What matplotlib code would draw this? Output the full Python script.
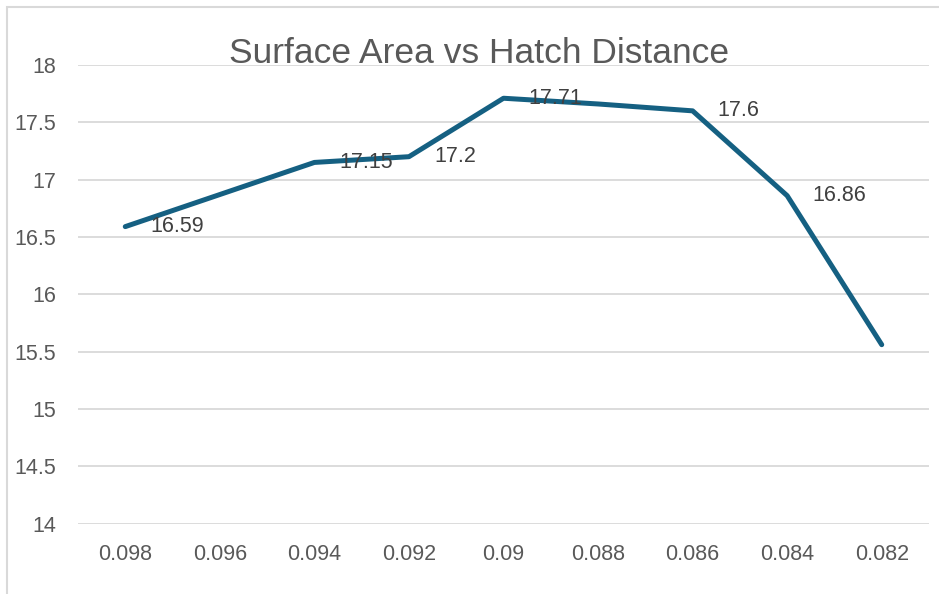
import matplotlib.pyplot as plt
from matplotlib.patches import Rectangle

# hatch distance categories and measured surface area
hatch = ["0.098", "0.096", "0.094", "0.092", "0.09", "0.088", "0.086", "0.084", "0.082"]
area = [16.59, 16.87, 17.15, 17.2, 17.71, 17.66, 17.6, 16.86, 15.56]
# only some points carry a data label
labelled = [True, False, True, True, True, False, True, True, False]

plt.rcParams['font.family'] = ['Liberation Sans', 'DejaVu Sans']

W, H = 939, 594
fig = plt.figure(figsize=(W / 100, H / 100), dpi=100)
ax = fig.add_axes([78 / W, 1 - 523.5 / H, (929 - 78) / W, (523.5 - 65) / H])

x = list(range(len(hatch)))
ax.plot(x, area, color='#156082', lw=3.6, solid_capstyle='round', solid_joinstyle='round', zorder=3)

for i, (v, show) in enumerate(zip(area, labelled)):
    if show:
        ax.annotate(f"{v:g}", (i, v), xytext=(18, 0), textcoords='offset points',
                    ha='left', va='center', fontsize=15.5, color='#404040', zorder=4)

ax.set_xlim(-0.5, len(hatch) - 0.5)
ax.set_ylim(14, 18)
ax.set_yticks([14, 14.5, 15, 15.5, 16, 16.5, 17, 17.5, 18])
ax.set_yticklabels(["14", "14.5", "15", "15.5", "16", "16.5", "17", "17.5", "18"])
ax.set_xticks(x)
ax.set_xticklabels(hatch)
ax.tick_params(axis='both', length=0, labelsize=15.5, labelcolor='#595959')
ax.tick_params(axis='y', pad=16)
ax.tick_params(axis='x', pad=15)
ax.grid(axis='y', color='#D9D9D9', lw=1.3)
ax.set_axisbelow(True)
for s in ax.spines.values():
    s.set_visible(False)

fig.text(479 / W, 1 - 63 / H, "Surface Area vs Hatch Distance", ha='center', va='baseline',
         fontsize=25.5, color='#595959')

# chart area border
fig.patches.append(Rectangle((7 / W, -0.1), 1.2, 1 - 7 / H + 0.1, transform=fig.transFigure,
                             fill=False, edgecolor='#D9D9D9', lw=1.5))

fig.savefig("out.png", dpi=100)
